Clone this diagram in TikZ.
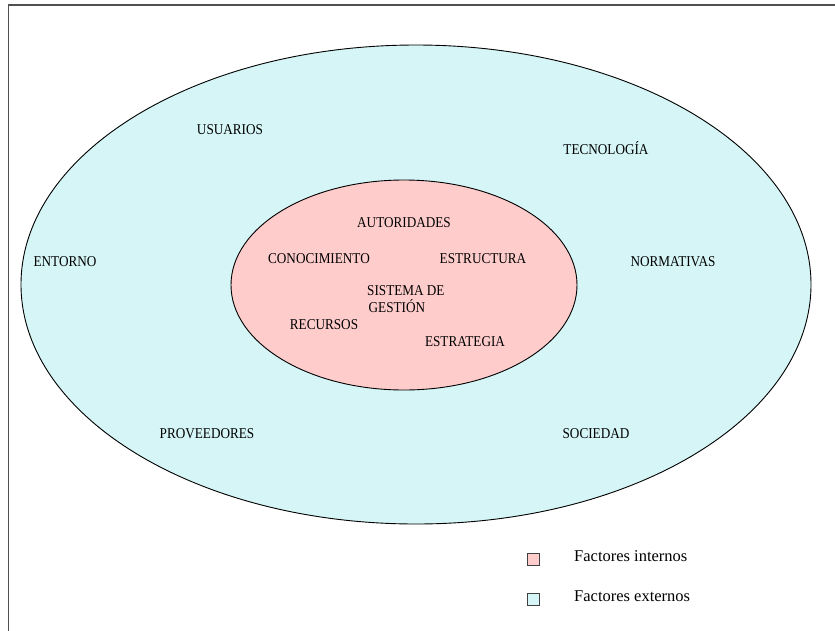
\documentclass[tikz,border=0pt]{standalone}
\usepackage{fontspec}
\setmainfont{Liberation Serif}
\newfontfamily\lblfont{Liberation Serif}[FakeStretch=0.88]
\definecolor{extfill}{RGB}{213,245,247}
\definecolor{intfill}{RGB}{255,204,204}
\definecolor{framegray}{RGB}{80,80,80}
\begin{document}
\begin{tikzpicture}[x=1pt,y=-1pt,
  lbl/.style={font={\lblfont\fontsize{15}{17}\selectfont}, inner sep=0pt, align=center, text=black},
  leg/.style={font={\fontsize{16.5}{19}\selectfont}, inner sep=0pt, anchor=base west, text=black},
  legbox/.style={draw=black!75, line width=0.9pt, minimum size=12.5pt, inner sep=0pt}]
\useasboundingbox (0,0) rectangle (835,630);
% frame
\draw[framegray, line width=1.4pt] (8.5,631) -- (8.5,5) -- (836,5);
% ellipses
\draw[fill=extfill, line width=0.9pt] (416,284.5) ellipse [x radius=395pt, y radius=239.5pt];
\draw[fill=intfill, line width=0.9pt] (404,285) ellipse [x radius=173pt, y radius=105pt];
% outer labels
\node[lbl] (usuarios) at (230,130) {USUARIOS};
\node[lbl] (tecnologia) at (606,148) {TECNOLOGÍA};
\node[lbl] (entorno) at (65,262) {ENTORNO};
\node[lbl] (normativas) at (673,262) {NORMATIVAS};
\node[lbl] (proveedores) at (207,434) {PROVEEDORES};
\node[lbl] (sociedad) at (596,434) {SOCIEDAD};
% inner labels
\node[lbl] (autoridades) at (404,223) {AUTORIDADES};
\node[lbl] (conocimiento) at (319,259) {CONOCIMIENTO};
\node[lbl] (estructura) at (483,259) {ESTRUCTURA};
\node[lbl, anchor=west, align=left] (sistema) at (367,299.5) {SISTEMA DE\\\hspace{1.5pt}GESTIÓN};
\node[lbl] (recursos) at (324,325) {RECURSOS};
\node[lbl] (estrategia) at (465,342) {ESTRATEGIA};
% legend
\node[legbox, fill=intfill] (boxint) at (533.5,559.5) {};
\node[legbox, fill=extfill] (boxext) at (533.5,599.5) {};
\node[leg] (txtint) at (574,561.5) {Factores internos};
\node[leg] (txtext) at (574,601.5) {Factores externos};
\end{tikzpicture}
\end{document}
